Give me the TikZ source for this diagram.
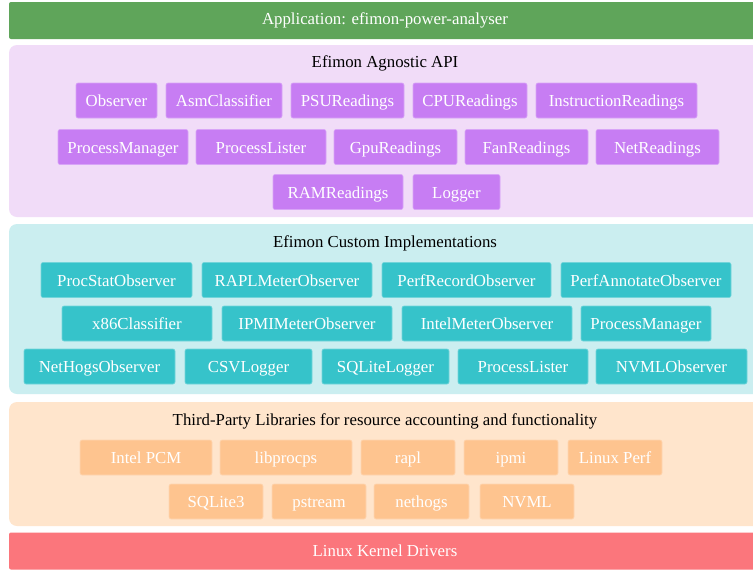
\documentclass[tikz,border=0pt]{standalone}
\usepackage{fontspec}
\setmainfont{Liberation Serif}
\usetikzlibrary{positioning}
\definecolor{appgreen}{HTML}{5FA55A}
\definecolor{apibg}{HTML}{F1DCF8}
\definecolor{apibox}{HTML}{C77DF3}
\definecolor{implbg}{HTML}{CBEEF0}
\definecolor{implbox}{HTML}{36C3CA}
\definecolor{libbg}{HTML}{FFE5CC}
\definecolor{libbox}{HTML}{FEC48F}
\definecolor{kernred}{HTML}{FB767C}
\tikzset{%
layerbar/.style={rectangle,rounded corners=2pt,minimum width=752pt,minimum height=37pt,inner sep=0,text=white,font=\fontsize{16.8}{20}\selectfont},
panel/.style={rectangle,rounded corners=8pt,minimum width=752pt,inner sep=0},
paneltitle/.style={inner sep=0,font=\fontsize{16.8}{20}\selectfont},
box/.style={rectangle,rounded corners=2pt,minimum height=35pt,inner sep=0,outer sep=0,line width=0.6pt,text height=13.5pt,text depth=1.5pt,text=white,font=\fontsize{16.8}{20}\selectfont},
apinode/.style={box,fill=apibox,draw=apibox!70!white},
implnode/.style={box,fill=implbox,draw=implbox!70!white},
libnode/.style={box,fill=libbox,draw=libbox!70!white}
}

\begin{document}
\begin{tikzpicture}[x=1pt,y=-1pt,node distance=9pt]
  \path[use as bounding box,fill=white] (0,0) rectangle (753,571);

  % layers
  \node[layerbar,fill=appgreen] (app) at (385,20.5) {Application: efimon-power-analyser};
  \node[panel,fill=apibg,minimum height=172pt] (apipanel) at (385,131) {};
  \node[panel,fill=implbg,minimum height=170pt] (implpanel) at (385,309) {};
  \node[panel,fill=libbg,minimum height=124pt] (libpanel) at (385,464) {};
  \node[layerbar,fill=kernred] (kernel) at (385,551) {Linux Kernel Drivers};

  \node[paneltitle] (apititle) at (385,63) {Efimon Agnostic API};
  \node[paneltitle] (impltitle) at (385,243) {Efimon Custom Implementations};
  \node[paneltitle] (libtitle) at (385,421) {Third-Party Libraries for resource accounting and functionality};

  % agnostic API
  \node[apinode,minimum width=81pt,anchor=west] (observer) at (76,100.5) {Observer};
  \node[apinode,minimum width=116pt,right=of observer] (asmclassifier) {AsmClassifier};
  \node[apinode,minimum width=113pt,right=of asmclassifier] (psureadings) {PSUReadings};
  \node[apinode,minimum width=114pt,right=of psureadings] (cpureadings) {CPUReadings};
  \node[apinode,minimum width=161pt,right=of cpureadings] (instrreadings) {InstructionReadings};

  \node[apinode,minimum width=130pt,anchor=west] (procmanager) at (58,147) {ProcessManager};
  \node[apinode,minimum width=130pt,right=8pt of procmanager] (proclister) {ProcessLister};
  \node[apinode,minimum width=123pt,right=8pt of proclister] (gpureadings) {GpuReadings};
  \node[apinode,minimum width=123pt,right=8pt of gpureadings] (fanreadings) {FanReadings};
  \node[apinode,minimum width=123pt,right=8pt of fanreadings] (netreadings) {NetReadings};

  \node[apinode,minimum width=130pt,anchor=west] (ramreadings) at (273,192) {RAMReadings};
  \node[apinode,minimum width=87pt,right=10pt of ramreadings] (logger) {Logger};

  % custom implementations
  \node[implnode,minimum width=151pt,anchor=west] (procstatobs) at (41,280) {ProcStatObserver};
  \node[implnode,minimum width=170pt,right=10pt of procstatobs] (raplobs) {RAPLMeterObserver};
  \node[implnode,minimum width=169pt,right=10pt of raplobs] (perfrecobs) {PerfRecordObserver};
  \node[implnode,minimum width=170pt,right=10pt of perfrecobs] (perfannobs) {PerfAnnotateObserver};

  \node[implnode,minimum width=150pt,anchor=west] (x86classifier) at (62,323.5) {x86Classifier};
  \node[implnode,minimum width=170pt,right=10pt of x86classifier] (ipmiobs) {IPMIMeterObserver};
  \node[implnode,minimum width=170pt,right=10pt of ipmiobs] (intelobs) {IntelMeterObserver};
  \node[implnode,minimum width=130pt,right=of intelobs] (implmanager) {ProcessManager};

  \node[implnode,minimum width=151pt,anchor=west] (nethogsobs) at (24,366.5) {NetHogsObserver};
  \node[implnode,minimum width=127pt,right=10pt of nethogsobs] (csvlogger) {CSVLogger};
  \node[implnode,minimum width=127pt,right=10pt of csvlogger] (sqlitelogger) {SQLiteLogger};
  \node[implnode,minimum width=130pt,right=of sqlitelogger] (impllister) {ProcessLister};
  \node[implnode,minimum width=151pt,right=8pt of impllister] (nvmlobs) {NVMLObserver};

  % third-party libraries
  \node[libnode,minimum width=132pt,anchor=west] (intelpcm) at (80,457.5) {Intel PCM};
  \node[libnode,minimum width=132pt,right=8pt of intelpcm] (libprocps) {libprocps};
  \node[libnode,minimum width=94pt,right=of libprocps] (rapl) {rapl};
  \node[libnode,minimum width=94pt,right=of rapl] (ipmi) {ipmi};
  \node[libnode,minimum width=94pt,right=10pt of ipmi] (linuxperf) {Linux Perf};

  \node[libnode,minimum width=94pt,anchor=west] (sqlite) at (169,501.5) {SQLite3};
  \node[libnode,minimum width=94pt,right=of sqlite] (pstream) {pstream};
  \node[libnode,minimum width=95pt,right=8pt of pstream] (nethogs) {nethogs};
  \node[libnode,minimum width=94pt,right=11pt of nethogs] (nvml) {NVML};
\end{tikzpicture}
\end{document}
